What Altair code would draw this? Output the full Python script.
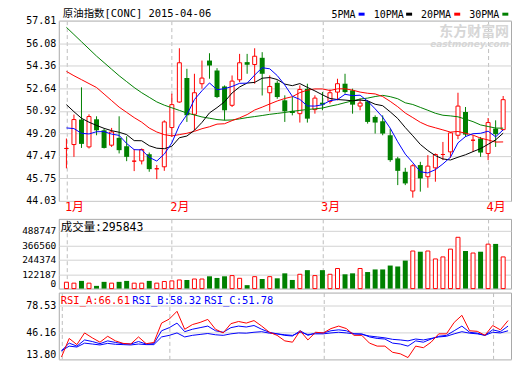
import altair as alt
import pandas as pd

opens = [48.04, 48.34, 50.25, 48.16, 50.27, 49.43, 48.29, 48.85, 48.21, 47.07,
         47.09, 47.60, 46.49, 46.64, 49.64, 51.59, 53.42, 50.65, 52.99, 54.76,
         54.00, 52.78, 51.34, 53.29, 54.64, 54.46, 54.97, 52.30, 53.06, 51.72,
         50.91, 50.70, 52.60, 51.01, 51.54, 51.64, 52.35, 52.99, 52.48, 51.28,
         51.64, 50.45, 50.12, 49.05, 47.28, 46.26, 44.79, 46.77, 45.88, 46.56,
         47.58, 47.78, 49.05, 50.83, 48.67, 48.80, 47.66, 49.56, 49.48]
highs = [48.80, 50.63, 52.71, 50.65, 50.50, 49.56, 49.61, 50.50, 48.97, 48.00,
         48.04, 47.73, 46.77, 50.19, 52.23, 55.70, 54.13, 53.75, 54.76, 55.32,
         54.18, 52.86, 53.62, 55.27, 55.27, 55.70, 55.40, 53.62, 53.24, 52.10,
         51.97, 52.86, 52.99, 52.10, 52.35, 52.55, 53.37, 53.75, 52.61, 51.85,
         51.72, 50.57, 50.57, 49.56, 47.40, 46.56, 46.84, 47.02, 47.53, 47.66,
         48.54, 49.30, 52.30, 51.21, 49.05, 48.92, 50.37, 50.19, 52.05]
lows = [46.52, 47.40, 48.08, 48.04, 49.05, 48.04, 48.16, 47.66, 47.07, 46.31,
        46.82, 46.26, 45.70, 46.33, 48.92, 51.54, 50.07, 49.43, 52.61, 53.37,
        51.89, 50.19, 51.21, 53.11, 53.75, 52.99, 52.09, 50.88, 51.84, 50.07,
        50.57, 50.02, 50.02, 50.70, 50.96, 51.47, 51.72, 52.23, 50.70, 50.96,
        49.94, 49.18, 49.05, 47.02, 45.24, 45.24, 44.28, 44.74, 45.04, 45.50,
        47.15, 47.32, 48.75, 48.92, 47.78, 47.40, 47.15, 48.16, 49.43]
closes = [48.04, 50.25, 48.39, 50.48, 49.43, 48.08, 49.30, 47.91, 47.40, 47.07,
          47.96, 46.46, 46.49, 50.07, 51.39, 54.59, 50.57, 52.30, 53.42, 54.38,
          51.97, 50.96, 53.19, 54.59, 54.44, 55.09, 53.75, 52.78, 51.97, 50.88,
          50.75, 52.55, 50.32, 51.89, 51.39, 52.30, 52.99, 52.35, 51.39, 51.51,
          50.07, 50.02, 49.18, 47.15, 46.33, 45.37, 46.72, 45.75, 46.69, 47.58,
          47.58, 49.23, 51.28, 49.10, 48.67, 47.73, 50.02, 49.13, 51.77]
ma5 = [49.61, 49.56, 49.20, 49.15, 49.32, 49.33, 49.14, 49.04, 48.42, 47.95,
       47.93, 47.36, 47.08, 47.61, 48.47, 49.80, 50.62, 51.78, 52.45, 53.05,
       52.53, 52.61, 52.78, 53.02, 53.03, 53.65, 54.21, 54.13, 53.61, 52.89,
       52.03, 51.79, 51.29, 51.28, 51.38, 51.69, 51.78, 52.18, 52.08, 52.11,
       51.66, 51.07, 50.43, 49.59, 48.55, 47.61, 46.95, 46.26, 46.17, 46.42,
       46.86, 47.37, 48.47, 48.95, 49.17, 49.20, 49.36, 48.93, 49.46]
ma10 = [51.39, 50.85, 50.35, 50.05, 49.80, 49.58, 49.40, 49.28, 49.10, 48.64,
        48.63, 48.25, 48.06, 48.02, 48.21, 48.86, 48.99, 49.43, 50.03, 50.76,
        51.16, 51.61, 52.28, 52.74, 53.04, 53.09, 53.41, 53.46, 53.31, 52.96,
        52.84, 53.00, 52.71, 52.44, 52.14, 51.86, 51.78, 51.74, 51.68, 51.74,
        51.68, 51.42, 51.31, 50.84, 50.33, 49.64, 49.01, 48.35, 47.88, 47.49,
        47.24, 47.16, 47.37, 47.56, 47.80, 48.03, 48.36, 48.70, 49.21]
ma20 = [53.93, 53.60, 53.30, 53.00, 52.70, 52.20, 51.70, 51.20, 50.80, 50.40,
        50.05, 49.60, 49.30, 49.10, 49.00, 49.10, 49.20, 49.35, 49.55, 49.70,
        49.90, 49.93, 50.17, 50.38, 50.63, 50.98, 51.20, 51.44, 51.67, 51.86,
        52.00, 52.31, 52.50, 52.59, 52.59, 52.47, 52.60, 52.60, 52.50, 52.35,
        52.26, 52.21, 52.01, 51.64, 51.23, 50.75, 50.40, 50.04, 49.78, 49.62,
        49.46, 49.29, 49.34, 49.20, 49.06, 48.83, 48.69, 48.53, 48.54]
ma30 = [57.30, 56.75, 56.20, 55.65, 55.10, 54.60, 54.10, 53.60, 53.15, 52.70,
        52.30, 51.95, 51.60, 51.35, 51.15, 50.95, 50.75, 50.60, 50.45, 50.35,
        50.25, 50.20, 50.22, 50.30, 50.40, 50.48, 50.56, 50.65, 50.72, 50.79,
        50.88, 50.95, 51.02, 51.07, 51.13, 51.27, 51.39, 51.54, 51.68, 51.82,
        51.89, 52.01, 52.10, 52.00, 51.84, 51.53, 51.40, 51.18, 50.96, 50.73,
        50.58, 50.53, 50.46, 50.28, 50.09, 49.84, 49.72, 49.60, 49.59]
volume = [54000, 46000, 65000, 46000, 23000, 57000, 46000, 57000, 65000, 46000,
          46000, 65000, 46000, 60000, 65000, 73000, 73000, 81000, 81000, 104000,
          90000, 104000, 110000, 87000, 29000, 101000, 81000, 101000, 87000, 129000,
          73000, 121000, 156000, 110000, 156000, 121000, 170000, 121000, 129000, 170000,
          140000, 162000, 162000, 195000, 187000, 237000, 318000, 312000, 318000, 251000,
          268000, 334000, 434000, 318000, 301000, 312000, 376000, 378000, 268000]
rsi_a = [16.6, 38.8, 31.4, 45.4, 39.5, 34.3, 41.4, 35.9, 32.9, 32.1,
         40.6, 32.5, 34.0, 57.2, 62.0, 71.3, 49.8, 55.4, 58.0, 61.6,
         49.8, 45.4, 56.5, 59.1, 57.2, 60.2, 53.6, 46.2, 42.5, 35.9,
         34.3, 48.0, 37.0, 46.2, 45.4, 50.6, 53.6, 50.6, 42.5, 42.5,
         33.2, 29.6, 29.6, 22.2, 20.4, 15.9, 29.6, 27.7, 34.3, 44.3,
         44.3, 58.0, 66.5, 48.0, 47.3, 42.5, 54.3, 49.1, 60.2]
rsi_b = [24.0, 33.2, 29.6, 37.0, 35.1, 32.5, 35.9, 34.0, 32.5, 32.1,
         35.1, 32.1, 32.5, 48.0, 51.7, 57.2, 46.9, 49.8, 51.7, 53.6,
         48.0, 46.2, 51.7, 53.6, 52.5, 54.3, 49.8, 46.2, 44.3, 42.5,
         41.7, 48.0, 42.5, 45.4, 45.4, 48.0, 49.1, 48.0, 44.3, 44.3,
         40.6, 38.8, 38.1, 33.2, 32.1, 29.6, 35.9, 34.3, 38.1, 41.4,
         42.5, 48.0, 53.6, 46.2, 45.1, 42.5, 49.1, 46.9, 53.6]
rsi_c = [24.0, 29.6, 28.5, 33.2, 32.1, 31.0, 32.9, 31.8, 31.4, 31.0,
         32.1, 31.4, 31.4, 40.6, 42.5, 45.4, 40.6, 42.5, 43.6, 44.7,
         43.2, 42.5, 44.3, 45.4, 45.1, 46.2, 46.9, 45.1, 44.3, 43.2,
         42.5, 46.2, 43.6, 44.3, 44.3, 45.4, 46.2, 45.4, 44.3, 43.6,
         41.7, 40.6, 39.5, 37.7, 37.0, 35.9, 38.1, 37.0, 38.8, 40.6,
         41.4, 44.3, 46.9, 45.1, 44.3, 42.5, 46.2, 45.4, 48.0]

price_ticks = [44.03, 45.75, 47.47, 49.20, 50.92, 52.64, 54.36, 56.08, 57.81]
volume_ticks = [0, 122187, 244374, 366560, 488747]
rsi_ticks = [13.80, 46.16, 78.53]
month_starts = [0, 14, 34, 56]
month_names = ["1月", "2月", "3月", "4月"]
chart_title = "原油指数[CONC] 2015-04-06"
ma_names = ["5PMA", "10PMA", "20PMA", "30PMA"]
ma_colors = ["#0000ff", "#000000", "#ff0000", "#008000"]
volume_title = "成交量:295843"
rsi_names = ["RSI_A:66.61", "RSI_B:58.32", "RSI_C:51.78"]
rsi_colors = ["#ff0000", "#0000ff", "#0000ff"]
watermark = ["东方财富网", "eastmoney.com"]

df = pd.DataFrame({
    "i": list(range(len(closes))), "o": opens, "h": highs, "l": lows, "c": closes,
    "v": volume, "ma5": ma5, "ma10": ma10, "ma20": ma20, "ma30": ma30,
    "ra": rsi_a, "rb": rsi_b, "rc": rsi_c,
})

FONT = "DejaVu Sans Mono, Noto Sans CJK SC"
W = 454
RED = "#ff0000"
GREEN = "#008000"
GRID = "#d2d2d2"
DASHC = "#bdbdbd"
UP = "datum.c >= datum.o"
DOWN = "datum.c < datum.o"

xscale = alt.Scale(domain=[-0.35, 58.38], nice=False, zero=False)
month_expr = " : ".join(
    f"datum.value == {m} ? '{n}'" for m, n in zip(month_starts, month_names)) + " : ''"

x_main = alt.X("i:Q", scale=xscale, axis=alt.Axis(
    values=month_starts, labelExpr=month_expr, labelAlign="left", labelBaseline="top",
    labelColor=RED, labelFont=FONT, labelFontSize=12, labelPadding=1, labelOffset=-2,
    labelFlush=False, labelOverlap=False, ticks=False, domain=False, grid=True,
    gridColor=DASHC, gridDash=[4, 3], minExtent=14, maxExtent=14, title=None))
x_sub = alt.X("i:Q", scale=xscale, axis=alt.Axis(
    values=month_starts, labels=False, ticks=False, domain=False, grid=True,
    gridColor=DASHC, gridDash=[4, 3], minExtent=0, maxExtent=0, title=None))


def yaxis(values, fmt, flush, size=10):
    return alt.Axis(values=values, format=fmt, labelFont=FONT, labelFontSize=size,
                    labelColor="#000000", labelPadding=3, labelFlush=flush,
                    labelOverlap=False, ticks=False, domain=False, grid=True,
                    gridColor=GRID, minExtent=50, maxExtent=50, title=None)


# ---------- price panel ----------
pscale = alt.Scale(domain=[44.03, 57.81], nice=False, zero=False)
py_axis = yaxis(price_ticks, ".2f", False)
base = alt.Chart(df)
wick = base.mark_rule(strokeWidth=1).encode(
    x=x_main, y=alt.Y("l:Q", scale=pscale, axis=py_axis), y2="h:Q",
    color=alt.condition(UP, alt.value(RED), alt.value(GREEN)))
up_body = base.transform_filter(UP).mark_bar(size=4, fill="#ffffff", stroke=RED, strokeWidth=1).encode(
    x=x_main, y=alt.Y("o:Q", scale=pscale, axis=py_axis), y2="c:Q")
dn_body = base.transform_filter(DOWN).mark_bar(size=5, color=GREEN).encode(
    x=x_main, y=alt.Y("o:Q", scale=pscale, axis=py_axis), y2="c:Q")
ma_lines = [
    base.mark_line(strokeWidth=1, color=col).encode(
        x=x_main, y=alt.Y(f"{f}:Q", scale=pscale, axis=py_axis))
    for f, col in zip(["ma30", "ma20", "ma10", "ma5"], ["#008000", "#ff0000", "#000000", "#0000ff"])
]
one = pd.DataFrame({"k": [0]})
title_layer = alt.Chart(pd.DataFrame({"t": [chart_title]})).mark_text(
    align="left", baseline="middle", font=FONT, fontSize=10.5, color="#000000").encode(
    x=alt.value(4), y=alt.value(-6.5), text="t:N")
legend_text_x = [273.7, 316.3, 363.7, 412.0]
legend_dash_x = [301.0, 348.7, 397.0, 445.3]
legend_layers = []
for name, col, tx, dx in zip(ma_names, ma_colors, legend_text_x, legend_dash_x):
    legend_layers.append(alt.Chart(pd.DataFrame({"t": [name]})).mark_text(
        align="left", baseline="middle", font=FONT, fontSize=10, color="#000000").encode(
        x=alt.value(tx), y=alt.value(-6), text="t:N"))
    legend_layers.append(alt.Chart(one).mark_rect(color=col).encode(
        x=alt.value(dx), x2=alt.value(dx + 6), y=alt.value(-8), y2=alt.value(-5)))
wm1 = alt.Chart(pd.DataFrame({"t": [watermark[0]]})).mark_text(
    align="right", baseline="middle", font="Noto Sans CJK SC", fontSize=14, fontWeight="bold",
    color="#d6d6d6").encode(x=alt.value(452), y=alt.value(11), text="t:N")
wm2 = alt.Chart(pd.DataFrame({"t": [watermark[1]]})).mark_text(
    align="right", baseline="middle", font="DejaVu Sans", fontSize=9, fontWeight="bold",
    fontStyle="italic", color="#d6d6d6").encode(x=alt.value(452), y=alt.value(23), text="t:N")

price = alt.layer(wm1, wm2, wick, up_body, dn_body, *ma_lines, title_layer, *legend_layers).properties(
    width=W, height=181)

# ---------- volume panel ----------
VH = 70
vscale = alt.Scale(domain=[0, 590000], nice=False, zero=True)
vy_axis = yaxis(volume_ticks, "d", True, 9.5)
v_up = base.transform_filter(UP).mark_bar(size=4, fill="#ffffff", stroke=RED, strokeWidth=1).encode(
    x=x_sub, y=alt.Y("v:Q", scale=vscale, axis=vy_axis))
v_dn = base.transform_filter(DOWN).mark_bar(size=5, color=GREEN).encode(
    x=x_sub, y=alt.Y("v:Q", scale=vscale, axis=vy_axis))
v_title = alt.Chart(pd.DataFrame({"t": [volume_title]})).mark_text(
    align="left", baseline="middle", font=FONT, fontSize=11.5, color="#000000").encode(
    x=alt.value(2), y=alt.value(9), text="t:N")
vol = alt.layer(v_up, v_dn, v_title).properties(width=W, height=VH)

# ---------- RSI panel ----------
RH = 67
rscale = alt.Scale(domain=[13.80, 93.75], nice=False, zero=False)
ry_axis = yaxis(rsi_ticks, ".2f", True)
rsi_lines = [
    base.mark_line(strokeWidth=1, color=col).encode(
        x=x_sub, y=alt.Y(f"{f}:Q", scale=rscale, axis=ry_axis))
    for f, col in zip(["rc", "rb", "ra"], ["#0000ff", "#0000ff", "#ff0000"])
]
rsi_label_x = [2, 73.7, 146]
rsi_texts = [
    alt.Chart(pd.DataFrame({"t": [t]})).mark_text(
        align="left", baseline="middle", font=FONT, fontSize=10.5, color=col).encode(
        x=alt.value(px), y=alt.value(8), text="t:N")
    for t, col, px in zip(rsi_names, rsi_colors, rsi_label_x)
]
rsi = alt.layer(*rsi_lines, *rsi_texts).properties(width=W, height=RH)

chart = alt.vconcat(price, vol, rsi, spacing=2).properties(
    padding={"left": 0, "top": 0, "right": 0, "bottom": 0}, background="#ffffff"
).configure_view(stroke="#a8a8a8", strokeWidth=1)

chart.save("out.html", embed_options={"renderer": "svg", "actions": False})
